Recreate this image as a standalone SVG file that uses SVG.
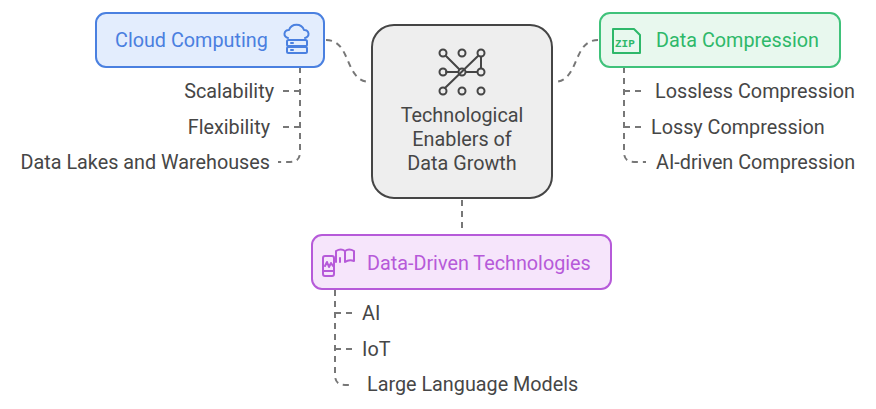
<svg xmlns="http://www.w3.org/2000/svg" width="876" height="409" viewBox="0 0 876 409">
<style>
text{font-family:Roboto,"Liberation Sans",sans-serif;font-size:19.8px;fill:#464646}
.c{fill:none;stroke:#777;stroke-width:2;stroke-dasharray:6 5}
.ic{fill:none;stroke-width:2;stroke-linecap:round;stroke-linejoin:round}
</style>
<rect width="876" height="409" fill="#fff"/>
<g id="connectors">
<path class="c" d="M326,40 C352,40 344,82 370,82"/>
<path class="c" d="M598,40 C572,40 580,82 554,82"/>
<path class="c" d="M462,200 V233"/>
<path class="c" d="M300,67 V152 Q300,162 290,162 H278"/>
<path class="c" d="M300,91 H282 M300,127 H282"/>
<path class="c" d="M624,67 V152 Q624,162 634,162 H646"/>
<path class="c" d="M624,91 H643 M624,127 H643"/>
<path class="c" d="M335,290 V375 Q335,385 345,385 H353"/>
<path class="c" d="M335,313 H353 M335,349 H353"/>
</g>
<g id="center">
<rect x="372" y="25" width="180" height="173" rx="22" fill="#eeeeee" stroke="#454545" stroke-width="2"/>
<g class="ic" stroke="#454545">
<circle cx="443" cy="53" r="3.5"/><circle cx="462" cy="53" r="3.5"/><circle cx="481" cy="53" r="3.5"/>
<circle cx="443" cy="72" r="3.5"/><circle cx="462" cy="72" r="3.5"/><circle cx="481" cy="72" r="3.5"/>
<circle cx="443" cy="91" r="3.5"/><circle cx="462" cy="91" r="3.5"/><circle cx="481" cy="91" r="3.5"/>
<path d="M446,56 L459,69 M446,72 H458 M466,72 H477 M445,88 L478,56 M481,57 V68"/>
</g>
<text x="462" y="122" text-anchor="middle">Technological</text>
<text x="462" y="146" text-anchor="middle">Enablers of</text>
<text x="462" y="170" text-anchor="middle">Data Growth</text>
</g>
<g id="cloud">
<rect x="96" y="13" width="228" height="54" rx="10" fill="#e3edfd" stroke="#4a80e0" stroke-width="2"/>
<text x="115" y="47" style="fill:#4a7fe0">Cloud Computing</text>
<g class="ic" stroke="#4a80e0">
<path d="M288,38 a4,4 0 0 1 1,-8 a8,8 0 0 1 15,0 a4,4 0 0 1 1,8"/>
<rect x="287" y="40" width="20" height="6" rx="1.5"/><rect x="287" y="47" width="20" height="6" rx="1.5"/>
<path d="M291,43 H293 M291,50 H293"/>
</g>
</g>
<text x="274" y="98" text-anchor="end">Scalability</text>
<text x="270" y="134" text-anchor="end">Flexibility</text>
<text x="270" y="169" text-anchor="end">Data Lakes and Warehouses</text>
<g id="compression">
<rect x="600" y="13" width="240" height="54" rx="10" fill="#e8f8ee" stroke="#3fc27a" stroke-width="2"/>
<g class="ic" stroke="#2eb86a">
<path d="M613,29 H634 L640,35 V53 H613 Z"/>
</g>
<text x="615" y="47" style="font-size:11px;font-weight:bold;font-family:'Liberation Mono',monospace;fill:#2eb86a">ZIP</text>
<text x="656" y="47" style="fill:#2eb86a">Data Compression</text>
</g>
<text x="655" y="98">Lossless Compression</text>
<text x="651" y="134">Lossy Compression</text>
<text x="656" y="169">AI-driven Compression</text>
<g id="datadriven">
<rect x="312" y="235" width="299" height="54" rx="10" fill="#f6e5fb" stroke="#b65ad9" stroke-width="2"/>
<g class="ic" stroke="#b65ad9">
<rect x="323" y="256" width="11" height="20" rx="2"/>
<path d="M323,271 H334 M325,266 L327,262 L329,267 L331,263 L333,266 M336,262 V251 Q341,248 345,251 Q349,248 354,251 V261 Q349,259 345,262 M345,251 V262 M340,258 V262"/>
</g>
<text x="367" y="270" style="fill:#b65ad9">Data-Driven Technologies</text>
</g>
<text x="362" y="320">AI</text>
<text x="362" y="356">IoT</text>
<text x="367" y="391">Large Language Models</text>
</svg>
